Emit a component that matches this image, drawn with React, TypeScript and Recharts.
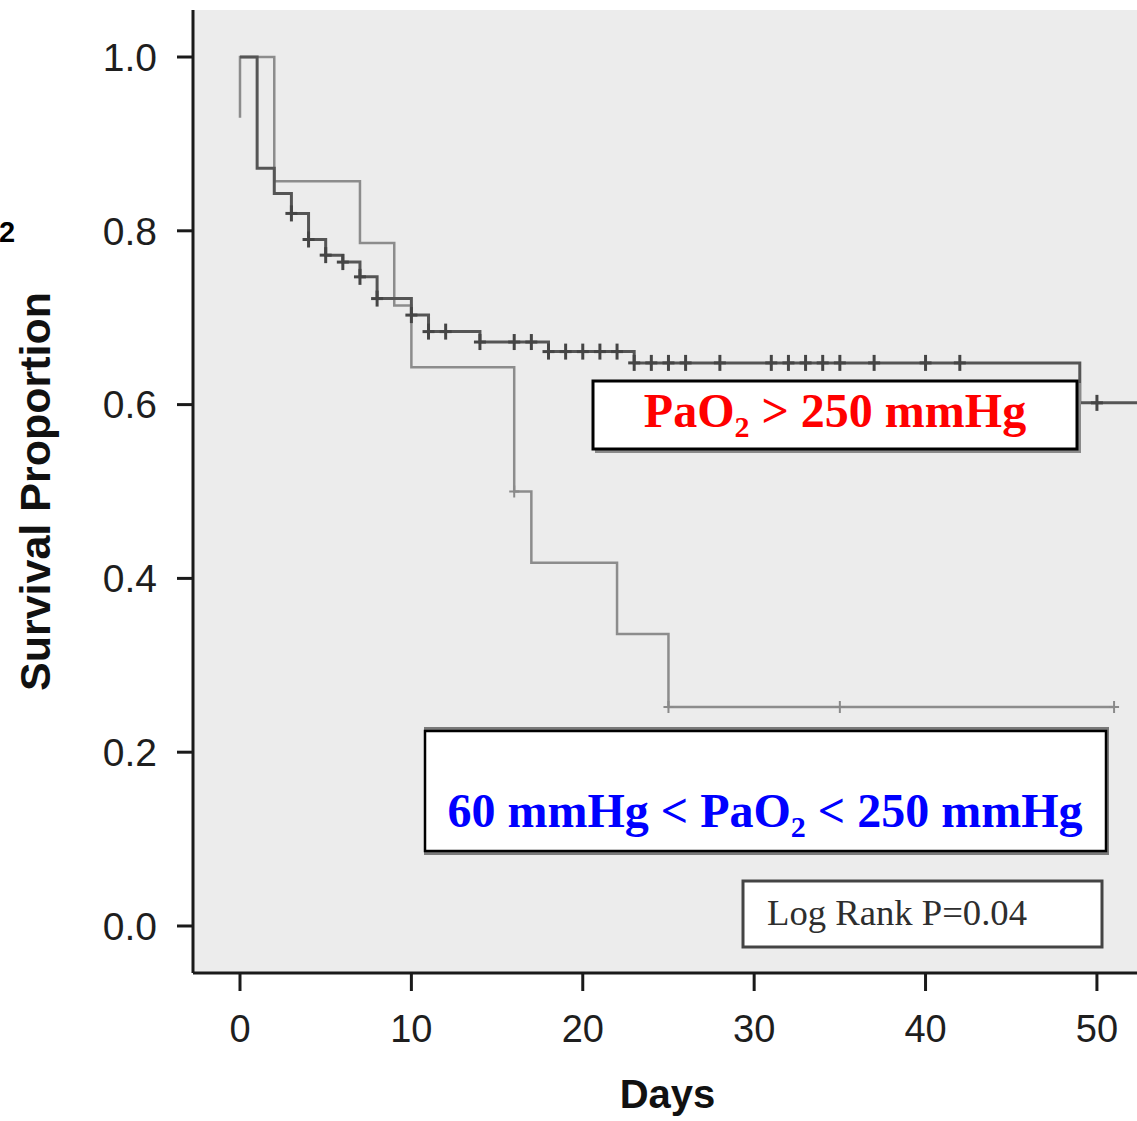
import { ComposedChart, Line, Scatter, XAxis, YAxis, CartesianGrid } from "recharts";

// Kaplan-Meier steps (time in days, survival proportion)
const highDays = [0, 1, 2, 3, 4, 5, 6, 7, 8, 10, 11, 14, 18, 23, 49, 53.5];
const highSurv = [1.0, 0.872, 0.843, 0.82, 0.79, 0.772, 0.764, 0.747, 0.722, 0.703, 0.684, 0.672, 0.661, 0.648, 0.602, 0.602];
const highCensored = [3, 4, 5, 6, 7, 8, 10, 11, 12, 14, 16, 17, 18, 19, 20, 21, 22, 23, 24, 25, 26, 28, 31, 32, 33, 34, 35, 37, 40, 42, 50];

const midDays = [0, 0, 2, 7, 9, 10, 16, 17, 22, 25, 51];
const midSurv = [0.93, 1.0, 0.857, 0.786, 0.714, 0.643, 0.5, 0.418, 0.336, 0.252, 0.252];
const midCensored = [16, 25, 35, 51];

const xTicks = [0, 10, 20, 30, 40, 50];
const yTicks = [0, 0.2, 0.4, 0.6, 0.8, 1.0];

const X_MIN = -2.742;
const X_MAX = 53.68;
const Y_MIN = -0.0541;
const Y_MAX = 1.0541;

function toSteps(days: number[], surv: number[]) {
  return days.map((t, i) => ({ t, s: surv[i] }));
}

function survAt(days: number[], surv: number[], d: number) {
  let v = surv[0];
  days.forEach((t, i) => {
    if (t <= d) v = surv[i];
  });
  return v;
}

const highLine = toSteps(highDays, highSurv);
const midLine = toSteps(midDays, midSurv);
const highMarks = highCensored.map((t) => ({ t, s: survAt(highDays, highSurv, t) }));
const midMarks = midCensored.map((t) => ({ t, s: survAt(midDays, midSurv, t) }));

const tickFont = { fontSize: 38, fill: "#1e1e1e", fontFamily: "Liberation Sans, Arial, sans-serif" };

function DarkCross(props: any) {
  const { cx, cy } = props;
  return (
    <g stroke="#454545" strokeWidth={3}>
      <line x1={cx} y1={cy - 8} x2={cx} y2={cy + 8} />
      <line x1={cx - 6} y1={cy} x2={cx + 6} y2={cy} />
    </g>
  );
}

function LightCross(props: any) {
  const { cx, cy } = props;
  return (
    <g stroke="#8a8a8a" strokeWidth={2}>
      <line x1={cx} y1={cy - 6} x2={cx} y2={cy + 6} />
      <line x1={cx - 5} y1={cy} x2={cx + 5} y2={cy} />
    </g>
  );
}

export default function App() {
  return (
    <div style={{ position: "absolute", left: 0, top: 0, width: 1137, height: 1121, overflow: "hidden", background: "#fff" }}>
      <ComposedChart width={1160} height={1121} margin={{ top: 10, right: 0, bottom: 0, left: 0 }}>
        <CartesianGrid horizontal={false} vertical={false} fill="#ececec" />
        <XAxis
          xAxisId="top"
          orientation="top"
          type="number"
          domain={[X_MIN, X_MAX]}
          allowDataOverflow
          height={0}
          tick={false}
          tickLine={false}
          axisLine={{ stroke: "#1a1a1a", strokeWidth: 3 }}
        />
        <XAxis
          dataKey="t"
          type="number"
          domain={[X_MIN, X_MAX]}
          allowDataOverflow
          ticks={xTicks}
          interval={0}
          height={148}
          tickSize={18}
          tickMargin={24}
          tick={tickFont}
          tickLine={{ stroke: "#1a1a1a", strokeWidth: 3 }}
          axisLine={{ stroke: "#1a1a1a", strokeWidth: 3 }}
          label={{
            value: "Days",
            position: "insideBottom",
            offset: 13,
            dx: -9,
            fontSize: 40,
            fontWeight: "bold",
            fill: "#111",
            fontFamily: "Liberation Sans, Arial, sans-serif",
          }}
        />
        <YAxis
          type="number"
          domain={[Y_MIN, Y_MAX]}
          allowDataOverflow
          ticks={yTicks}
          interval={0}
          width={193}
          tickSize={16}
          tickMargin={20}
          tick={{ ...tickFont, fontSize: 39 }}
          tickFormatter={(v: number) => v.toFixed(1)}
          tickLine={{ stroke: "#1a1a1a", strokeWidth: 3 }}
          axisLine={{ stroke: "#1a1a1a", strokeWidth: 3 }}
          label={{
            value: "Survival Proportion",
            angle: -90,
            position: "insideLeft",
            offset: 35,
            fontSize: 43,
            fontWeight: "bold",
            fill: "#111",
            fontFamily: "Liberation Sans, Arial, sans-serif",
            style: { textAnchor: "middle" },
          }}
        />
        <Line
          data={midLine}
          dataKey="s"
          type="stepAfter"
          stroke="#8c8c8c"
          strokeWidth={2.5}
          dot={false}
          isAnimationActive={false}
        />
        <Line
          data={highLine}
          dataKey="s"
          type="stepAfter"
          stroke="#555"
          strokeWidth={3}
          dot={false}
          isAnimationActive={false}
        />
        <Scatter data={midMarks} dataKey="s" shape={LightCross} isAnimationActive={false} />
        <Scatter data={highMarks} dataKey="s" shape={DarkCross} isAnimationActive={false} />
      </ComposedChart>

      <svg width={1137} height={1121} style={{ position: "absolute", left: 0, top: 0, pointerEvents: "none" }}>
        <text x={-1} y={242} fontSize={29} fontWeight="bold" fontFamily="Liberation Sans, Arial, sans-serif" fill="#000">
          2
        </text>

        <rect x={595} y={383} width={486} height={70} fill="#8a8a8a" />
        <rect x={593} y={381} width={484} height={68} fill="#fff" stroke="#000" strokeWidth={3} />
        <text x={835} y={427} textAnchor="middle" fontSize={48} fontWeight="bold" fontFamily="Liberation Serif, Times New Roman, serif" fill="#ff0000">
          PaO
          <tspan fontSize={30} dy={10}>2</tspan>
          <tspan dy={-10}> &gt; 250 mmHg</tspan>
        </text>

        <rect x={424} y={727} width={685} height={128} fill="#7a7a7a" />
        <rect x={425} y={731} width={681} height={120} fill="#fff" stroke="#000" strokeWidth={2.5} />
        <text x={765} y={827} textAnchor="middle" fontSize={48} fontWeight="bold" fontFamily="Liberation Serif, Times New Roman, serif" fill="#0000ff">
          60 mmHg &lt; PaO
          <tspan fontSize={30} dy={10}>2</tspan>
          <tspan dy={-10}> &lt; 250 mmHg</tspan>
        </text>

        <rect x={743} y={881} width={359} height={66} fill="#fff" stroke="#444" strokeWidth={3} />
        <text
          x={767}
          y={925}
          fontSize={36}
          textLength={260}
          lengthAdjust="spacingAndGlyphs"
          fontFamily="Liberation Serif, Times New Roman, serif"
          fill="#2e2e2e"
        >
          Log Rank P=0.04
        </text>
      </svg>
    </div>
  );
}
